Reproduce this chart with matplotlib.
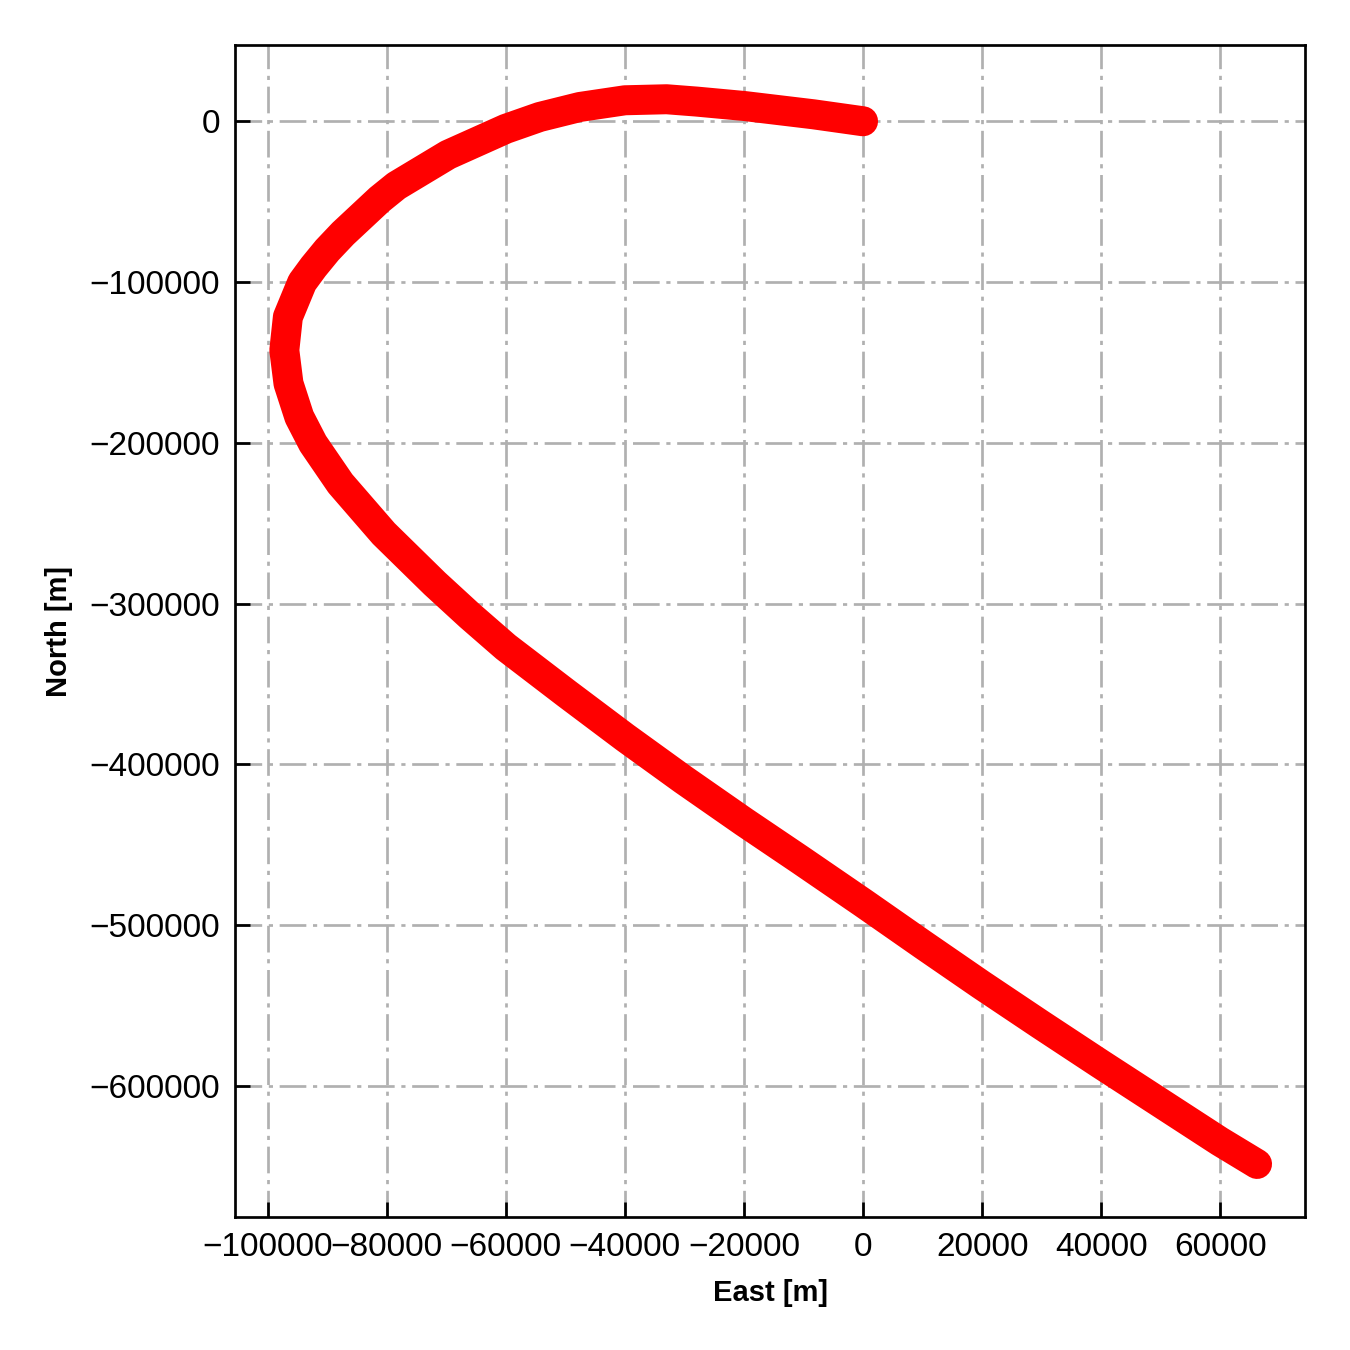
import numpy as np
from matplotlib import pyplot as plt

plt.rcParams["font.family"] = ["Liberation Sans", "DejaVu Sans"]
plt.rcParams["lines.scale_dashes"] = False

# trajectory (east, north) in metres
east = [0, -8350, -19950, -27950, -33000, -40000, -47560, -54290, -60000,
        -69700, -78370, -81180, -87340, -90000, -92300, -94200, -96600,
        -97200, -96500, -94680, -92380, -87780, -80500, -71930, -66050,
        -60000, -49800, -39950, -30200, -20000, -10600, 0, 10100, 19830,
        29750, 39830, 49900, 59880, 66170]
north = [0, 4350, 9500, 12250, 13700, 13060, 8900, 2700, -4700,
         -20800, -40100, -48500, -69800, -80200, -90600, -100200, -121700,
         -142400, -163100, -183900, -200400, -225300, -256400, -287500, -307500,
         -327000, -355900, -383300, -409400, -435700, -459200, -486100, -512200, -537000,
         -561600, -586200, -610400, -634400, -648500]

x_ticks = [-100000, -80000, -60000, -40000, -20000, 0, 20000, 40000, 60000]
y_ticks = [0, -100000, -200000, -300000, -400000, -500000, -600000]


def main():
    fig = plt.figure(figsize=(4.5, 4.5), dpi=300)
    ax = fig.add_axes([0.174, 0.0985, 0.793, 0.868])

    ax.plot(east, north, color="red", lw=7.2, solid_capstyle="round",
            solid_joinstyle="round", zorder=3)

    ax.set_xlim(-105500, 74300)
    ax.set_ylim(-681500, 47300)
    ax.set_xticks(x_ticks)
    ax.set_yticks(y_ticks)

    ax.grid(True, color="#b0b0b0", linestyle="-.", linewidth=0.65)
    ax.tick_params(direction="in", labelsize=8, width=0.65, length=3.5)
    for s in ax.spines.values():
        s.set_linewidth(0.65)

    ax.set_xlabel("East [m]", fontsize=7, fontweight="bold")
    ax.set_ylabel("North [m]", fontsize=7, fontweight="bold")

    fig.savefig("out.png", dpi=300)


if __name__ == '__main__':
    main()
